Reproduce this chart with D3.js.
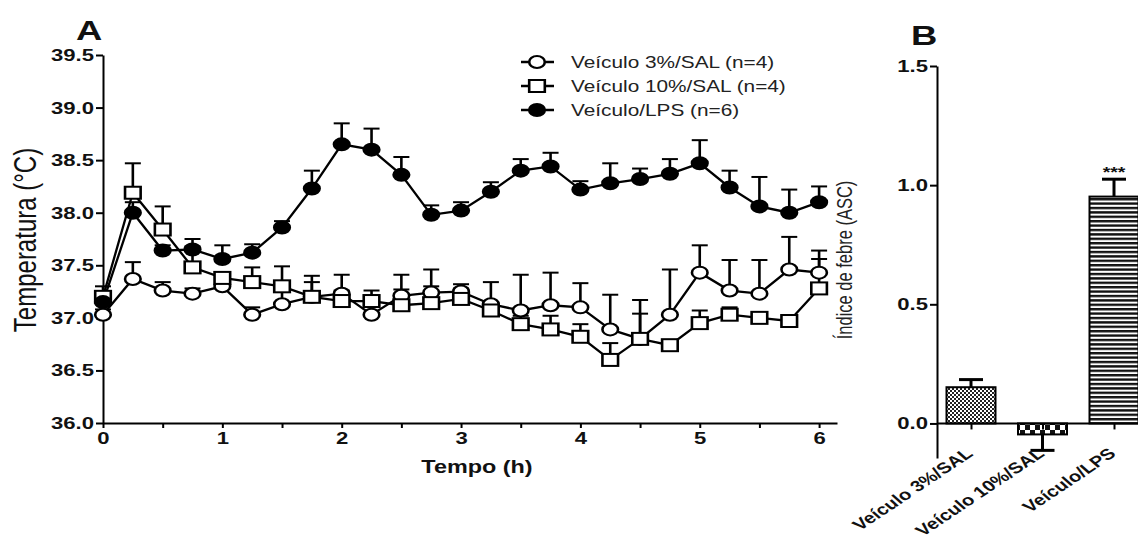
<html>
<head>
<script src="https://d3js.org/d3.v7.min.js"></script>
<style>
  body { margin: 0; background: #fff; }
  svg { font-family: "Liberation Sans", Arial, sans-serif; }
</style>
</head>
<body>
<svg id="chart" width="1138" height="539"></svg>
<script>
// ---- panel A data: time course of body temperature ----
var times = [0, 0.25, 0.5, 0.75, 1, 1.25, 1.5, 1.75, 2, 2.25, 2.5, 2.75, 3, 3.25, 3.5, 3.75, 4, 4.25, 4.5, 4.75, 5, 5.25, 5.5, 5.75, 6];
var sal3Mean = [37.03, 37.37, 37.26, 37.23, 37.30, 37.03, 37.13, 37.20, 37.23, 37.03, 37.21, 37.24, 37.25, 37.13, 37.07, 37.12, 37.10, 36.89, 36.80, 37.03, 37.43, 37.26, 37.23, 37.46, 37.43];
var sal3Err  = [0.05, 0.16, 0.08, 0.05, 0.05, 0.07, 0.12, 0.14, 0.18, 0.10, 0.20, 0.22, 0.07, 0.21, 0.34, 0.31, 0.23, 0.33, 0.37, 0.43, 0.26, 0.29, 0.32, 0.31, 0.21];
var sal10Mean = [37.20, 38.19, 37.84, 37.48, 37.38, 37.34, 37.30, 37.20, 37.16, 37.16, 37.12, 37.14, 37.18, 37.07, 36.94, 36.89, 36.82, 36.60, 36.80, 36.74, 36.95, 37.03, 37.00, 36.97, 37.28];
var sal10Err  = [0.05, 0.28, 0.22, 0.20, 0.05, 0.14, 0.19, 0.20, 0.10, 0.10, 0.15, 0.16, 0.10, 0.05, 0.08, 0.13, 0.12, 0.16, 0.24, 0.05, 0.12, 0.07, 0.04, 0.04, 0.28];
var lpsMean = [37.15, 38.00, 37.64, 37.65, 37.56, 37.62, 37.86, 38.23, 38.65, 38.60, 38.36, 37.98, 38.02, 38.20, 38.40, 38.44, 38.22, 38.28, 38.32, 38.37, 38.47, 38.24, 38.06, 38.00, 38.10];
var lpsErr  = [0.15, 0.10, 0.05, 0.10, 0.13, 0.08, 0.06, 0.17, 0.20, 0.20, 0.17, 0.09, 0.08, 0.09, 0.11, 0.13, 0.08, 0.19, 0.10, 0.14, 0.22, 0.16, 0.28, 0.22, 0.15];
var seriesNames = ["Veículo 3%/SAL (n=4)", "Veículo 10%/SAL (n=4)", "Veículo/LPS (n=6)"];
var tempTicks = [36.0, 36.5, 37.0, 37.5, 38.0, 38.5, 39.0, 39.5];
var hourTicks = [0, 1, 2, 3, 4, 5, 6];

// ---- panel B data: fever index (area under curve) ----
var groups = ["Veículo 3%/SAL", "Veículo 10%/SAL", "Veículo/LPS"];
var ascMean = [0.152, -0.046, 0.952];
var ascErr = [0.032, 0.067, 0.073];
var ascTicks = [0.0, 0.5, 1.0, 1.5];

// the source figure is stretched sideways, so text and markers are too
var SX = 1.3;

var svg = d3.select("#chart");

// patterns for the bars
var defs = svg.append("defs");
var p1 = defs.append("pattern").attr("id", "fine").attr("width", 4).attr("height", 4).attr("patternUnits", "userSpaceOnUse");
p1.append("rect").attr("width", 4).attr("height", 4).attr("fill", "#fff");
p1.append("rect").attr("width", 2).attr("height", 2).attr("fill", "#222");
p1.append("rect").attr("x", 2).attr("y", 2).attr("width", 2).attr("height", 2).attr("fill", "#222");
var p2 = defs.append("pattern").attr("id", "coarse").attr("width", 10).attr("height", 10).attr("patternUnits", "userSpaceOnUse");
p2.append("rect").attr("width", 10).attr("height", 10).attr("fill", "#fff");
p2.append("rect").attr("width", 5).attr("height", 5).attr("fill", "#111");
p2.append("rect").attr("x", 5).attr("y", 5).attr("width", 5).attr("height", 5).attr("fill", "#111");
var p3 = defs.append("pattern").attr("id", "hlines").attr("width", 8).attr("height", 4.4).attr("patternUnits", "userSpaceOnUse");
p3.append("rect").attr("width", 8).attr("height", 4.4).attr("fill", "#fff");
p3.append("rect").attr("width", 8).attr("height", 2.4).attr("fill", "#111");
var fills = ["url(#fine)", "url(#coarse)", "url(#hlines)"];

function styleAxis(g) {
  g.selectAll("path, line").attr("stroke", "#000").attr("stroke-width", 2);
  g.selectAll("text").style("font-family", "'Liberation Sans', Arial, sans-serif")
    .style("font-size", "17px").style("font-weight", "bold").attr("fill", "#111")
    .attr("x", function() { return (+d3.select(this).attr("x") || 0) / SX; })
    .attr("transform", "scale(" + SX + ",1)");
}

function label(px, py, rot, txt, size, bold, anchor) {
  return svg.append("text")
    .attr("transform", "translate(" + px + "," + py + ") scale(" + SX + ",1)" + (rot ? " rotate(" + rot + ")" : ""))
    .attr("text-anchor", anchor || "start").style("font-size", size + "px")
    .style("font-weight", bold ? "bold" : "normal").attr("fill", "#111").text(txt);
}

// ================= Panel A =================
var x = d3.scaleLinear().domain([0, 6.15]).range([103, 837]);
var y = d3.scaleLinear().domain([36, 39.5]).range([423, 55]);

svg.append("g").attr("transform", "translate(103,0)")
  .call(d3.axisLeft(y).tickValues(tempTicks).tickFormat(d3.format(".1f")).tickSize(7).tickSizeOuter(0).tickPadding(2))
  .call(styleAxis);
svg.append("g").attr("transform", "translate(0,423)")
  .call(d3.axisBottom(x).tickValues(d3.range(0, 6.01, 0.5)).tickFormat(function(d){ return hourTicks.indexOf(d) >= 0 ? d : ""; })
    .tickSize(5).tickSizeOuter(0).tickPadding(4))
  .call(styleAxis);

label(36, 240, -90, "Temperatura (°C)", 24, false, "middle");
label(477, 473, 0, "Tempo (h)", 18, true, "middle");
label(76, 40, 0, "A", 28, true);

var series = [
  {name: seriesNames[0], mean: sal3Mean, err: sal3Err, sym: "circle", fill: "#fff"},
  {name: seriesNames[1], mean: sal10Mean, err: sal10Err, sym: "square", fill: "#fff"},
  {name: seriesNames[2], mean: lpsMean, err: lpsErr, sym: "circle", fill: "#000"}
];

function drawMarker(g, s, cx, cy) {
  var t = "translate(" + cx + "," + cy + ") scale(" + SX + ",1)";
  if (s.sym === "circle") {
    g.append("circle").attr("transform", t).attr("r", 6)
      .attr("fill", s.fill).attr("stroke", "#000").attr("stroke-width", 2);
  } else {
    g.append("rect").attr("transform", t).attr("x", -6).attr("y", -6).attr("width", 12).attr("height", 12)
      .attr("fill", s.fill).attr("stroke", "#000").attr("stroke-width", 2);
  }
}

var line = d3.line().x(function(d, i){ return x(times[i]); }).y(function(d){ return y(d); });
var gA = svg.append("g");
series.forEach(function(s) {
  gA.append("path").attr("d", line(s.mean)).attr("fill", "none").attr("stroke", "#000").attr("stroke-width", 2.3);
  s.mean.forEach(function(m, i) {
    var cx = x(times[i]), top = y(m + s.err[i]);
    gA.append("line").attr("x1", cx).attr("x2", cx).attr("y1", y(m)).attr("y2", top).attr("stroke", "#000").attr("stroke-width", 2.6);
    gA.append("line").attr("x1", cx - 8).attr("x2", cx + 8).attr("y1", top).attr("y2", top).attr("stroke", "#000").attr("stroke-width", 2);
  });
});
series.forEach(function(s) {
  s.mean.forEach(function(m, i) { drawMarker(gA, s, x(times[i]), y(m)); });
});

// legend
series.forEach(function(s, i) {
  var ly = 62 + i * 24;
  svg.append("line").attr("x1", 521).attr("x2", 554).attr("y1", ly).attr("y2", ly).attr("stroke", "#000").attr("stroke-width", 2.3);
  drawMarker(svg, s, 537, ly);
  label(571, ly + 6, 0, s.name, 16, false).attr("fill", "#222");
});

// ================= Panel B =================
var xb = d3.scalePoint().domain(groups).range([935.25, 1149.75]).padding(0.5);
var yb = d3.scaleLinear().domain([-0.145, 1.5]).range([458, 66]);
var barW = 49;

svg.append("g").attr("transform", "translate(937,0)")
  .call(d3.axisLeft(yb).tickValues(ascTicks).tickFormat(d3.format(".1f")).tickSize(7).tickSizeOuter(0).tickPadding(2))
  .call(styleAxis);

var gB = svg.append("g");
groups.forEach(function(g, i) {
  var cx = xb(g), v = ascMean[i];
  var tip = v + (v >= 0 ? ascErr[i] : -ascErr[i]);
  gB.append("line").attr("x1", cx).attr("x2", cx).attr("y1", yb(v)).attr("y2", yb(tip)).attr("stroke", "#000").attr("stroke-width", 3);
  gB.append("line").attr("x1", cx - 12).attr("x2", cx + 12).attr("y1", yb(tip)).attr("y2", yb(tip)).attr("stroke", "#000").attr("stroke-width", 3);
  gB.append("rect").attr("x", cx - barW / 2).attr("y", yb(Math.max(v, 0))).attr("width", barW)
    .attr("height", Math.abs(yb(v) - yb(0))).attr("fill", fills[i]).attr("stroke", "#000").attr("stroke-width", 2);
});

var xAxisB = svg.append("g").attr("transform", "translate(0," + yb(0) + ")")
  .call(d3.axisBottom(xb).tickSize(6).tickSizeOuter(0).tickFormat(""))
  .call(styleAxis);
xAxisB.select(".domain").attr("d", "M937,0H1138");

groups.forEach(function(g) {
  label(xb(g) + 3, 455, -41, g, 15.5, true, "end");
});

label(xb(groups[2]), 177, 0, "***", 15, true, "middle");
label(852, 260, -90, "Índice de febre (ASC)", 16.5, false, "middle").attr("fill", "#222");
label(911, 45, 0, "B", 28, true);
</script>
</body>
</html>
